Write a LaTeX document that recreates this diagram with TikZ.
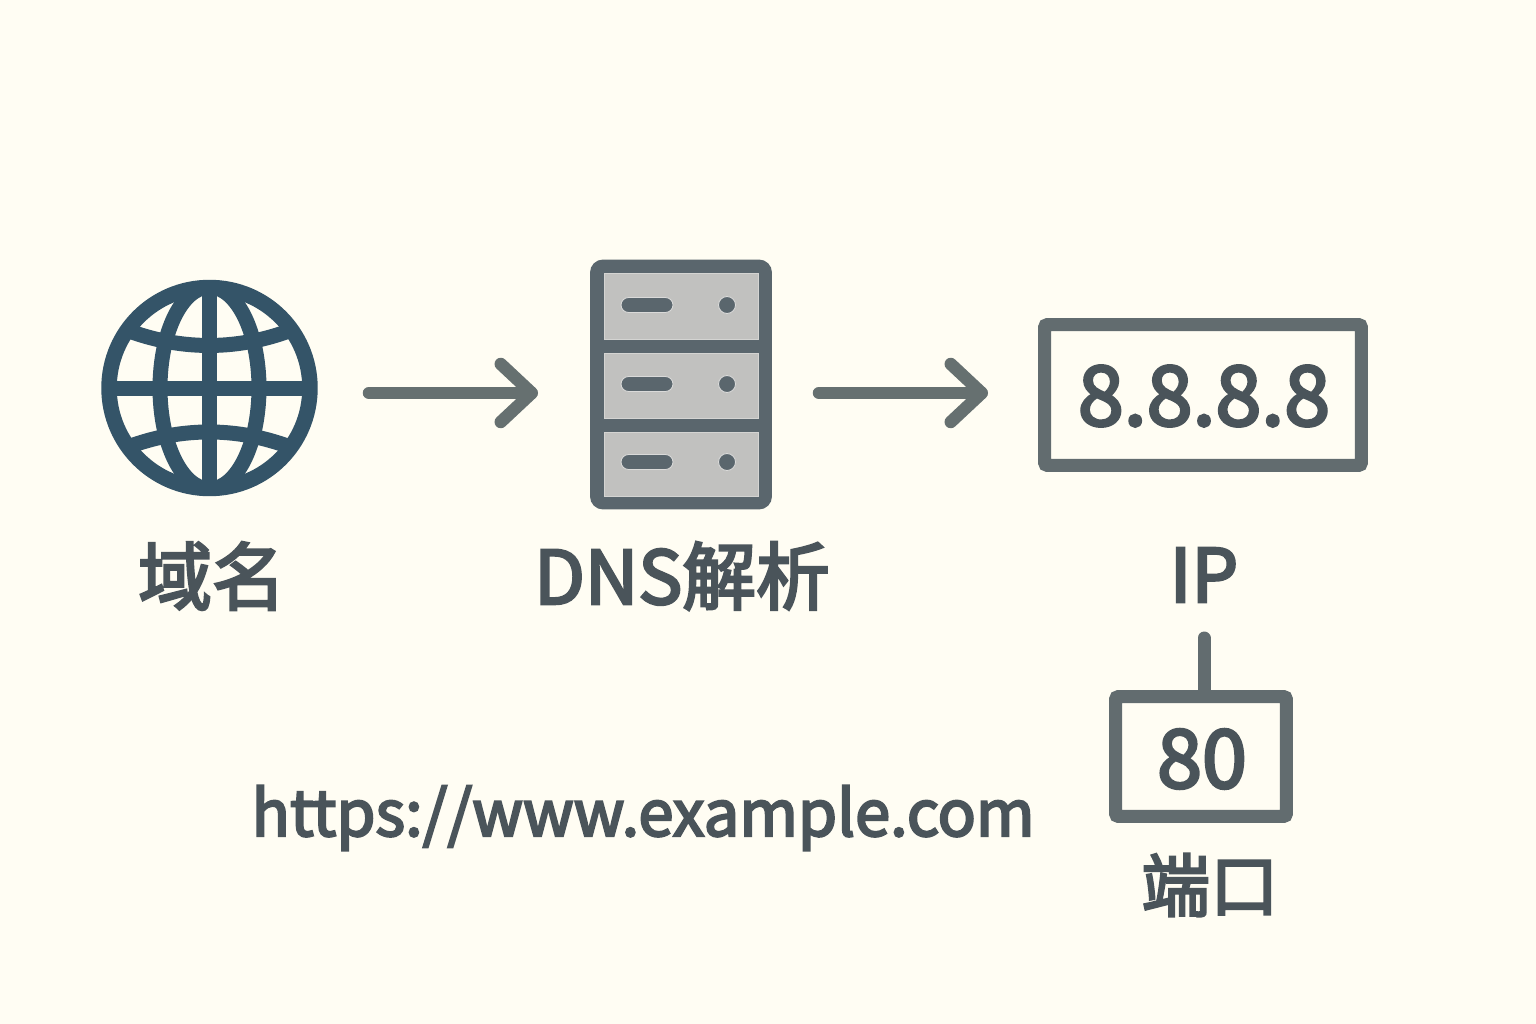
\documentclass[tikz,border=0pt]{standalone}
\usepackage{fontspec}
\setmainfont[FakeBold=3.5]{Noto Sans CJK SC}
\usepackage{xcolor}
\usetikzlibrary{arrows.meta}
\definecolor{pagecream}{RGB}{255,253,243}
\definecolor{globeblue}{RGB}{52,84,104}
\definecolor{servergray}{RGB}{90,102,109}
\definecolor{panelgray}{RGB}{193,193,191}
\definecolor{arrowgray}{RGB}{102,112,112}
\definecolor{boxgray}{RGB}{98,108,111}
\definecolor{labelgray}{RGB}{74,84,90}

\begin{document}
\begin{tikzpicture}[x=0.02cm,y=-0.02cm]
  \tikzset{
    label/.style={text=labelgray,inner sep=0pt},
    flow/.style={draw=arrowgray,line width=0.25cm,line cap=round,
      -{Straight Barb[length=0.62cm,width=1.16cm,round]}},
    stem/.style={draw=boxgray,line width=0.26cm,line cap=round},
    net/.style={draw=globeblue,line width=0.3cm},
    panel/.style={rectangle,fill=panelgray,draw=panelgray!70!white,line width=0.5pt,
      minimum width=3.08cm,minimum height=1.3cm,inner sep=0pt},
    pill/.style={rectangle,rounded corners=0.15cm,fill=servergray,draw=panelgray!60!white,line width=0.5pt,
      minimum width=1.04cm,minimum height=0.3cm,inner sep=0pt},
    lamp/.style={circle,fill=servergray,draw=panelgray!60!white,line width=0.5pt,
      minimum size=0.34cm,inner sep=0pt},
    numbox/.style={rectangle,draw=boxgray,rounded corners=0.06cm,line width=0.26cm,inner sep=0pt},
  }
  \fill[pagecream] (0,0) rectangle (1536,1024);
  \useasboundingbox (0,0) rectangle (1536,1024);

  % globe
  \node[circle,net,line width=0.31cm,minimum size=4.02cm,inner sep=0pt] (globe) at (209.5,388) {};
  \begin{scope}
    \clip (globe) circle (101);
    \draw[net] (globe) ellipse (49.5 and 101);
    \draw[net] (globe.west) -- (globe.east) (globe.north) -- (globe.south);
    \draw[net] (114,325) .. controls (177,352.3) and (241,352.3) .. (304,325);
    \draw[net] (114,452.6) .. controls (177,425.1) and (241,425.1) .. (304,452.6);
  \end{scope}
  \node[label,font=\fontsize{42}{50}\selectfont] (domain) at (212,576) {域名};

  % server
  \node[rectangle,fill=servergray,rounded corners=0.26cm,minimum width=3.64cm,minimum height=5cm,inner sep=0pt] (server) at (681,384.5) {};
  \foreach \n/\yy/\hh in {a/306/1.32,b/385.5/1.3,c/464/1.28}{
    \node[panel,minimum height=\hh cm] (panel\n) at (681,\yy) {};
  }
  \foreach \n/\yy in {a/305,b/384,c/462}{
    \node[pill] (pill\n) at (647,\yy) {};
    \node[lamp] (lamp\n) at (727,\yy) {};
  }
  \node[label,font=\fontsize{42}{50}\selectfont] (dns) at (682,576) {DNS解析};

  % ip and port
  \node[numbox,minimum width=6.34cm,minimum height=2.82cm,
    label,font=\fontsize{47}{54}\selectfont] (ipbox) at (1203,395) {};
  \node[label,font=\fontsize{47}{54}\selectfont] (ipnum) at (1204,396) {8.8.8.8};
  \node[label,font=\fontsize{42}{50}\selectfont] (ip) at (1204,575) {IP};
  \node[numbox,minimum width=3.42cm,minimum height=2.4cm] (portbox) at (1201,756.5) {};
  \node[label,font=\fontsize{46}{54}\selectfont] (portnum) at (1202,759) {80};
  \node[label,font=\fontsize{39}{46}\selectfont] (port) at (1210,885) {端口};
  \coordinate (stemtop) at (1204,638);
  \draw[stem] (stemtop) -- (portbox.north -| stemtop);

  \node[label,font=\fontsize{36}{44}\selectfont] (url) at (643,818) {https://www.example.com};

  \coordinate (flowa) at (369,393); \coordinate (flowb) at (538,393);
  \coordinate (flowc) at (819,393); \coordinate (flowd) at (988,393);
  \draw[flow] (flowa) -- (flowb);
  \draw[flow] (flowc) -- (flowd);
\end{tikzpicture}
\end{document}
